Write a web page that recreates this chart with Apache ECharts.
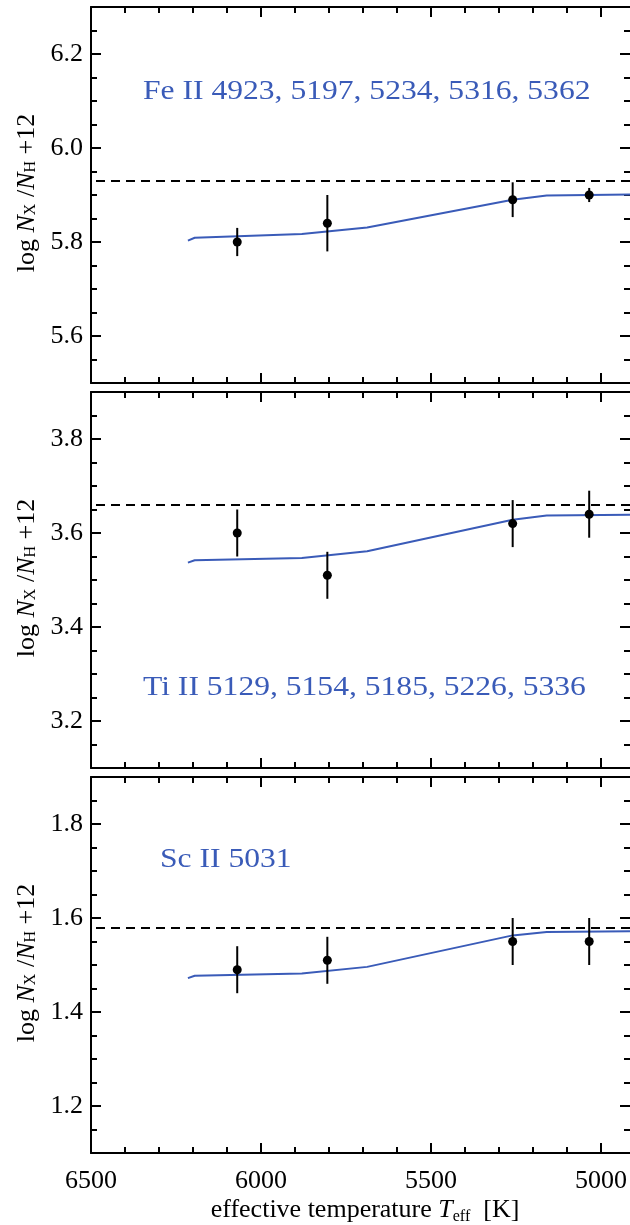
<!DOCTYPE html>
<html>
<head>
<meta charset="utf-8">
<script src="https://cdn.jsdelivr.net/npm/echarts@6/dist/echarts.min.js"></script>
<style>html,body{margin:0;padding:0;background:#fff;}#c{width:630px;height:1225px;}</style>
</head>
<body>
<div id="c"></div>
<script>
// ---- data ----
var pointTeff = [6070, 5805, 5260, 5035];
var feVal = [5.80, 5.84, 5.89, 5.90];
var feErr = [0.03, 0.06, 0.037, 0.015];
var tiVal = [3.60, 3.51, 3.62, 3.64];
var tiErr = [0.05, 0.05, 0.05, 0.05];
var scVal = [1.49, 1.51, 1.55, 1.55];
var scErr = [0.05, 0.05, 0.05, 0.05];

var modelTeff = [6215, 6195, 5880, 5688, 5260, 5160, 4915];
var feModel = [5.803, 5.809, 5.817, 5.831, 5.890, 5.899, 5.901];
var tiModel = [3.537, 3.542, 3.547, 3.561, 3.628, 3.637, 3.639];
var scModel = [1.472, 1.477, 1.482, 1.496, 1.563, 1.570, 1.572];

var feRef = 5.93, tiRef = 3.657, scRef = 1.578;

var xMajorTicks = [5000, 5500, 6000, 6500];
var xMinorTicks = [5100, 5200, 5300, 5400, 5600, 5700, 5800, 5900, 6100, 6200, 6300, 6400];

var feYMajor = [5.6, 5.8, 6.0, 6.2];
var feYMinor = [5.55, 5.65, 5.7, 5.75, 5.85, 5.9, 5.95, 6.05, 6.1, 6.15, 6.25];
var tiYMajor = [3.2, 3.4, 3.6, 3.8];
var tiYMinor = [3.15, 3.25, 3.3, 3.35, 3.45, 3.5, 3.55, 3.65, 3.7, 3.75, 3.85];
var scYMajor = [1.2, 1.4, 1.6, 1.8];
var scYMinor = [1.15, 1.25, 1.3, 1.35, 1.45, 1.5, 1.55, 1.65, 1.7, 1.75, 1.85];

var labels = ['Fe II 4923, 5197, 5234, 5316, 5362', 'Ti II 5129, 5154, 5185, 5226, 5336', 'Sc II 5031'];

// ---- build ----
var FONT = 'Liberation Serif';
var BLUE = '#3a5bb8';
var panels = [
  {ymin: 5.5, ymax: 6.3, maj: feYMajor, min: feYMinor, val: feVal, err: feErr, model: feModel, ref: feRef, top: 7},
  {ymin: 3.1, ymax: 3.9, maj: tiYMajor, min: tiYMinor, val: tiVal, err: tiErr, model: tiModel, ref: tiRef, top: 392},
  {ymin: 1.1, ymax: 1.9, maj: scYMajor, min: scYMinor, val: scVal, err: scErr, model: scModel, ref: scRef, top: 777}
];
var H = 376;
var grids = [], xAxes = [], yAxes = [], series = [];
var tickStyle = {color: '#000', width: 2};
panels.forEach(function (p, g) {
  grids.push({left: 91, right: 0, top: p.top, height: H, outerBoundsMode: 'none', containLabel: false});
  function xa(pos, major, labelsOn) {
    return {
      type: 'value', gridIndex: g, position: pos, min: 4915, max: 6500, inverse: true,
      axisLine: {show: major, lineStyle: {color: '#000', width: 2}},
      axisTick: {show: true, inside: true, length: major ? 10 : 6, lineStyle: tickStyle,
                 customValues: major ? xMajorTicks : xMinorTicks},
      axisLabel: {show: labelsOn, customValues: xMajorTicks, color: '#000', fontFamily: FONT, fontSize: 26, margin: 15,
                  formatter: function (v) { return String(v); }},
      splitLine: {show: false}
    };
  }
  function ya(pos, major, labelsOn) {
    return {
      type: 'value', gridIndex: g, position: pos, min: p.ymin, max: p.ymax,
      axisLine: {show: major && pos === 'left', lineStyle: {color: '#000', width: 2}},
      axisTick: {show: true, inside: true, length: major ? 10 : 6, lineStyle: tickStyle,
                 customValues: major ? p.maj : p.min},
      axisLabel: {show: labelsOn, customValues: p.maj, color: '#000', fontFamily: FONT, fontSize: 26, margin: 8,
                  formatter: function (v) { return v.toFixed(1); }},
      splitLine: {show: false}
    };
  }
  xAxes.push(xa('bottom', true, g === 2), xa('bottom', false, false), xa('top', true, false), xa('top', false, false));
  yAxes.push(ya('left', true, true), ya('left', false, false), ya('right', true, false), ya('right', false, false));
  var xi = 4 * g, yi = 4 * g;
  var model = modelTeff.map(function (t, i) { return [t, p.model[i]]; });
  series.push({
    type: 'line', xAxisIndex: xi, yAxisIndex: yi, data: model, symbol: 'none',
    lineStyle: {color: BLUE, width: 2}, silent: true, z: 3
  });
  var bars = pointTeff.map(function (t, i) { return [t, p.val[i] - p.err[i], p.val[i] + p.err[i]]; });
  series.push({
    type: 'custom', xAxisIndex: xi, yAxisIndex: yi, data: bars, encode: {x: 0, y: [1, 2]}, z: 4,
    renderItem: function (params, api) {
      var a = api.coord([api.value(0), api.value(1)]);
      var b = api.coord([api.value(0), api.value(2)]);
      return {type: 'line', shape: {x1: a[0], y1: a[1], x2: b[0], y2: b[1]}, style: {stroke: '#000', lineWidth: 2}};
    }
  });
  var pts = pointTeff.map(function (t, i) { return [t, p.val[i]]; });
  series.push({
    type: 'scatter', xAxisIndex: xi, yAxisIndex: yi, data: pts, symbol: 'circle', symbolSize: 9,
    itemStyle: {color: '#000', opacity: 1}, z: 5, silent: true,
    markLine: {silent: true, symbol: 'none', label: {show: false},
      lineStyle: {color: '#000', width: 2, type: [9, 6], opacity: 1},
      data: [{yAxis: p.ref}]}
  });
});

function yTitle(cy) {
  return {
    type: 'text', x: 27, y: cy, rotation: Math.PI / 2, silent: true,
    style: {
      text: '{a|log }{i|N}{s|X}{a| /}{i|N}{s|H}{a| +12}',
      align: 'center', verticalAlign: 'middle',
      rich: {
        a: {fontFamily: FONT, fontSize: 26, lineHeight: 30, fill: '#000'},
        i: {fontFamily: FONT, fontSize: 26, lineHeight: 30, fontStyle: 'italic', fill: '#000'},
        s: {fontFamily: FONT, fontSize: 16, lineHeight: 30, verticalAlign: 'bottom', padding: [0, 0, 3, 0], fill: '#000'}
      }
    }
  };
}
function ann(txt, x, y) {
  return {type: 'text', x: x, y: y, scaleX: 1.17, silent: true,
    style: {text: txt, fontFamily: FONT, fontSize: 27, fill: BLUE, align: 'left', verticalAlign: 'middle'}};
}

var option = {
  animation: false,
  backgroundColor: '#fff',
  grid: grids, xAxis: xAxes, yAxis: yAxes, series: series,
  graphic: [
    yTitle(193), yTitle(578), yTitle(963),
    ann(labels[0], 143, 92), ann(labels[1], 143, 688), ann(labels[2], 160, 860),
    {type: 'text', x: 365, y: 1210, silent: true,
      style: {text: '{a|effective temperature }{i|T}{s|eff}{a|  [K]}', align: 'center', verticalAlign: 'middle',
        rich: {
          a: {fontFamily: FONT, fontSize: 26, lineHeight: 30, fill: '#000'},
          i: {fontFamily: FONT, fontSize: 26, lineHeight: 30, fontStyle: 'italic', fill: '#000'},
          s: {fontFamily: FONT, fontSize: 16, lineHeight: 30, verticalAlign: 'bottom', padding: [0, 0, 0, 0], fill: '#000'}
        }}}
  ]
};
var chart = echarts.init(document.getElementById('c'), null, {renderer: 'canvas'});
chart.setOption(option);
</script>
</body>
</html>
